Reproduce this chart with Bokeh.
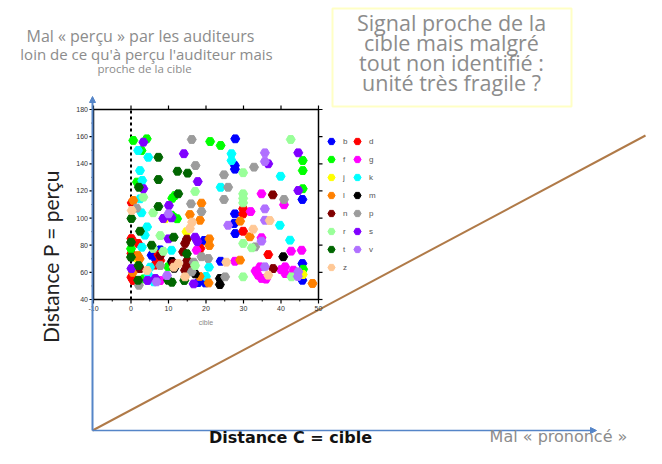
from bokeh.plotting import figure
from bokeh.models import (Range1d, Label, Arrow, NormalHead, Legend, LegendItem, BoxAnnotation)
from bokeh.core.properties import value
from bokeh.embed import file_html
from bokeh.resources import INLINE

# ---------------- data (inset scatter: cible vs perçu, by consonant) ----------------
letters = ["b", "d", "f", "g", "j", "k", "l", "m", "n", "p", "r", "s", "t", "v", "z"]
letter_colors = ["#0000FF", "#FF0000", "#00FF00", "#FF00FF", "#FFFF00", "#00FFFF", "#FF8000",
                 "#000000", "#800000", "#9C9C9C", "#99FF99", "#8000FF", "#006600", "#B070FF", "#FFC896"]

b_x = [27.8, 27.7, 27.7, 45.7, 27.7, 27.5, 27.8, 23.9, 45.7, 45.7, 19.5, 19.8, 7.8, 6.7, 5.5, 17.9]
b_y = [158.4, 138.7, 136.0, 113.7, 103.1, 96.0, 88.6, 68.2, 66.5, 54.2, 83.5, 52.2, 76.6, 69.0, 72.6, 52.5]
d_x = [0.2, 29.9, 29.9, 29.9, 36.6, 0.1, 1.9, 0.1, 0.1, 0.6, 18.5, 7.3, 7.8, 6.4]
d_y = [111.2, 106.8, 103.1, 90.3, 73.1, 84.9, 81.3, 73.9, 56.4, 54.0, 77.6, 73.1, 68.7, 65.3]
f_x = [0.6, 4.2, 2.8, 21.1, 23.9, 45.8, 45.8, 45.8, 2.4, 1.6, 11.7, 11.0, 11.4, 12.3, 10.8, 0.0, 3.4, 9.9, 45.9]
f_y = [157.2, 158.4, 149.8, 156.4, 153.5, 142.4, 135.0, 121.6, 124.0, 126.5, 116.6, 114.6, 100.6, 99.5, 102.1, 77.4, 55.2, 64.1, 62.3]
g_x = [34.8, 40.8, 31.9, 34.8, 42.7, 45.5, 27.7, 34.4, 33.9, 34.8, 41.1, 41.1, 43.3, 40.0, 7.8, 17.5, 33.2, 36.0]
g_y = [117.9, 109.8, 104.8, 85.5, 75.6, 76.3, 68.2, 64.1, 57.9, 55.5, 64.1, 59.1, 61.6, 62.0, 54.0, 76.3, 61.0, 55.0]
j_x = [14.8, 9.1, 45.8, 1.5]
j_y = [89.9, 99.5, 58.4, 70.5]
k_x = [1.9, 4.6, 2.4, 3.0, 2.4, 2.8, 26.8, 26.8, 39.9, 23.9, 39.7, 42.4, 4.3, 3.7, 10.8, 2.9, 5.1, 4.7, 20.8, 20.0, 6.1]
k_y = [149.8, 144.8, 135.0, 127.7, 114.2, 103.9, 147.4, 142.4, 130.8, 122.7, 94.7, 83.7, 93.5, 87.4, 76.3, 78.5, 63.8, 57.7, 63.8, 57.0, 53.0]
l_x = [0.6, 18.8, 29.1, 31.7, 29.1, 48.4, 15.7, 18.4, 20.9, 20.9, 1.8, 2.3, 18.3, 20.7, 0.5]
l_y = [113.0, 111.0, 97.7, 86.2, 69.0, 51.8, 102.6, 98.4, 84.7, 79.8, 72.4, 70.0, 57.0, 52.2, 60.0]
m_x = [40.6, 23.7, 23.7, 10.9, 17.1, 11.5]
m_y = [71.5, 55.5, 51.0, 68.0, 58.9, 63.0]
n_x = [37.8, 37.9, 14.4, 14.9, 13.9, 15.0, 14.9, 2.4, 7.8, 11.3, 14.4]
n_y = [117.1, 62.8, 81.3, 84.5, 75.1, 68.7, 65.0, 62.8, 72.4, 66.5, 61.5]
p_x = [16.2, 17.2, 32.8, 24.8, 25.9, 24.8, 40.8, 1.5, 16.0, 18.8, 33.1, 25.1, 18.8, 20.6, 7.8, 16.7, 16.2, 2.1]
p_y = [157.9, 138.7, 137.5, 131.9, 122.7, 113.7, 113.7, 107.3, 110.5, 104.8, 78.8, 56.7, 71.5, 70.2, 65.0, 67.5, 60.4, 50.5]
r_x = [42.6, 29.9, 17.1, 3.3, 5.9, 29.9, 29.9, 29.9, 29.9, 32.2, 29.9, 42.8, 5.9, 7.8, 17.1, 8.6]
r_y = [157.9, 133.4, 119.6, 115.4, 103.9, 117.9, 111.2, 114.5, 81.3, 78.1, 56.7, 56.7, 77.6, 87.1, 65.0, 75.5]
s_x = [3.3, 14.1, 17.8, 3.3, 10.1, 36.6, 44.6, 44.6, 10.0, 17.1, 17.7, 0.1, 4.4, 16.7, 8.6, 10.8, 6.5]
s_y = [155.9, 147.4, 126.9, 121.6, 109.3, 140.0, 148.1, 120.3, 84.7, 85.9, 82.7, 62.8, 54.0, 51.5, 99.7, 100.2, 55.5]
t_x = [7.3, 12.4, 15.1, 7.3, 2.1, 12.6, 7.3, 0.1, 2.4, 11.4, 0.0, 0.0, 2.0, 1.9, 9.9, 10.9, 14.2, 14.9, 5.5]
t_y = [144.8, 134.5, 133.1, 128.4, 122.7, 117.9, 108.5, 99.7, 90.3, 85.9, 82.2, 71.2, 65.0, 54.2, 54.2, 52.7, 54.0, 73.7, 80.0]
v_x = [35.7, 35.7, 35.7, 35.7, 25.9, 34.8, 35.7, 44.6, 10.0, 9.6, 6.8, 44.5]
v_y = [148.1, 141.7, 106.8, 98.4, 94.7, 83.0, 64.1, 60.4, 103.1, 57.7, 53.0, 57.0]
z_x = [0.2, 32.6, 36.6, 37.0, 15.7, 16.3, 11.4, 14.4, 12.6, 4.3, 25.4]
z_y = [105.6, 91.8, 57.9, 98.2, 92.3, 97.0, 63.8, 56.7, 66.5, 61.4, 67.5]

series_x = [b_x, d_x, f_x, g_x, j_x, k_x, l_x, m_x, n_x, p_x, r_x, s_x, t_x, v_x, z_x]
series_y = [b_y, d_y, f_y, g_y, j_y, k_y, l_y, m_y, n_y, p_y, r_y, s_y, t_y, v_y, z_y]

x_ticks = [-10, 0, 10, 20, 30, 40, 50]
y_ticks = [40, 60, 80, 100, 120, 140, 160, 180]
x_minor = [-5, 5, 15, 25, 35, 45]
y_minor = [50, 70, 90, 110, 130, 150, 170]
X_MIN, X_MAX, Y_MIN, Y_MAX = -10, 50, 40, 180

# ---------------- outer schematic (C = cible, P = perçu), 1 unit = 1 px ----------------
p = figure(width=646, height=448, x_range=Range1d(-92, 554), y_range=Range1d(-18, 430),
           x_axis_type=None, y_axis_type=None, toolbar_location=None,
           output_backend="svg", min_border=0)
p.grid.visible = False
p.outline_line_color = None

blue = "#5585C8"
p.add_layout(Arrow(x_start=0, y_start=0, x_end=504, y_end=0, line_color=blue, line_width=1.6,
                   end=NormalHead(size=6, fill_color=blue, line_color=blue)))
p.add_layout(Arrow(x_start=0, y_start=0, x_end=0, y_end=334, line_color=blue, line_width=2,
                   end=NormalHead(size=6, fill_color=blue, line_color=blue)))
p.segment(x0=[0], y0=[0], x1=[553], y1=[295], line_color="#B07A48", line_width=2)

p.add_layout(BoxAnnotation(left=240, right=479, bottom=324, top=422, fill_alpha=0,
                           line_color="#FFFF40", line_width=2))

grey = "#8C8C8C"
def lab(x, y, text, size, color, angle=0, style="normal", font="Open Sans"):
    p.add_layout(Label(x=x, y=y, text=text, text_font_size=size, text_color=color,
                       text_align="center", text_baseline="middle", angle=angle,
                       text_font=font, text_font_style=style))

lab(48, 395, "Mal « perçu » par les auditeurs", "16px", grey)
lab(54, 377, "loin de ce qu'à perçu l'auditeur mais", "15px", grey)
lab(52, 362, "proche de la cible", "11.5px", grey)
for i, line in enumerate(["Signal proche de la", "cible mais malgré",
                          "tout non identifié :", "unité très fragile ?"]):
    lab(359, 408 - 20 * i, line, "21.5px", grey)
lab(-42, 174, "Distance P = perçu", "21px", "#222222", angle=1.5708, font="Lato")
lab(198, -7, "Distance C = cible", "16px", "#111111", style="bold", font="DejaVu Sans")
lab(466, -6, "Mal « prononcé »", "16px", grey, font="DejaVu Sans")

# ---------------- inset scatter, drawn through its own sub-coordinate system ----------------
sub = p.subplot(x_source=Range1d(X_MIN, X_MAX), y_source=Range1d(Y_MIN, Y_MAX),
                x_target=Range1d(1, 226), y_target=Range1d(131, 321))
pxx = (X_MAX - X_MIN) / 225.0   # data units per pixel
pxy = (Y_MAX - Y_MIN) / 190.0

sub.quad(left=[X_MIN], right=[X_MAX], bottom=[Y_MIN], top=[Y_MAX],
         fill_color="white", line_color="black", line_width=1.5)
for xe, d in ((X_MIN, -1), (X_MAX, 1)):
    sub.segment(x0=[xe] * len(y_ticks), y0=y_ticks, x1=[xe + d * 4 * pxx] * len(y_ticks), y1=y_ticks,
                line_color="black", line_width=1.2)
sub.segment(x0=[X_MIN] * len(y_minor), y0=y_minor, x1=[X_MIN - 2 * pxx] * len(y_minor), y1=y_minor,
            line_color="black", line_width=1)
for ye, d in ((Y_MIN, -1), (Y_MAX, 1)):
    sub.segment(x0=x_ticks, y0=[ye] * len(x_ticks), x1=x_ticks, y1=[ye + d * 4 * pxy] * len(x_ticks),
                line_color="black", line_width=1.2)
sub.segment(x0=x_minor, y0=[Y_MIN] * len(x_minor), x1=x_minor, y1=[Y_MIN - 2 * pxy] * len(x_minor),
            line_color="black", line_width=1)
sub.text(x=[X_MIN - 5.5 * pxx] * len(y_ticks), y=y_ticks, text=[str(t) for t in y_ticks],
         text_font_size="7px", text_color="#333333", text_align="right", text_baseline="middle",
         text_font=value("Liberation Sans"))
sub.text(x=x_ticks, y=[Y_MIN - 6 * pxy] * len(x_ticks), text=[str(t) for t in x_ticks],
         text_font_size="7px", text_color="#333333", text_align="center", text_baseline="top",
         text_font=value("Liberation Sans"))
sub.text(x=[(X_MIN + X_MAX) / 2], y=[Y_MIN - 19 * pxy], text=["cible"],
         text_font_size="7px", text_color="#888888", text_align="center", text_baseline="top",
         text_font=value("Liberation Sans"))
sub.segment(x0=[0], y0=[Y_MIN], x1=[0], y1=[Y_MAX], line_color="black", line_width=2, line_dash="3 3")

renderers = {}
for L, c, xs, ys in zip(letters, letter_colors, series_x, series_y):
    renderers[L] = sub.scatter(xs, ys, marker="hex", size=9, fill_color=c, line_color=c)

legend_order = ["b", "f", "j", "l", "n", "r", "t", "z", "d", "g", "k", "m", "p", "s", "v"]
legend = Legend(items=[LegendItem(label=L, renderers=[renderers[L]]) for L in legend_order],
                location=(322, 172), orientation="vertical", ncols=2,
                glyph_width=18, glyph_height=18, label_height=18, label_width=5,
                label_standoff=3, spacing=0, padding=0, margin=0,
                border_line_color=None, background_fill_alpha=0,
                label_text_font_size="8px", label_text_color="#555555")
p.add_layout(legend)

open("out.html", "w").write(file_html(p, INLINE))
